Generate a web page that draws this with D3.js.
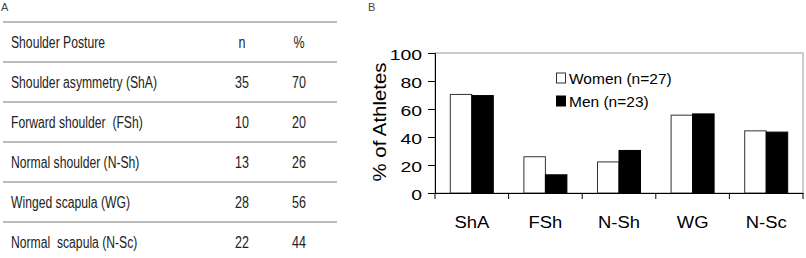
<!DOCTYPE html>
<html>
<head>
<meta charset="utf-8">
<script src="https://cdn.jsdelivr.net/npm/d3@7"></script>
<style>
  body { margin: 0; background: #fff; }
  svg { display: block; }
</style>
</head>
<body>
<div id="container"></div>
<script>
// table A
const tableHeader = ["Shoulder Posture", "n", "%"];
const postures = ["Shoulder asymmetry (ShA)", "Forward shoulder  (FSh)", "Normal shoulder (N-Sh)", "Winged scapula (WG)", "Normal  scapula (N-Sc)"];
const counts = [35, 10, 13, 28, 22];
const percents = [70, 20, 26, 56, 44];

// chart B
const categories = ["ShA", "FSh", "N-Sh", "WG", "N-Sc"];
const women = [70.4, 25.9, 22.2, 55.6, 44.4];
const men = [69.6, 13.0, 30.4, 56.5, 43.5];
const seriesNames = ["Women (n=27)", "Men (n=23)"];
const yTicks = [0, 20, 40, 60, 80, 100];

let w = 806, h = 258;
let viz = d3.select("#container").append("svg").attr("width", w).attr("height", h);

const sans = "'Liberation Sans', Arial, sans-serif";

// squeeze or widen glyphs horizontally, the picture is a bit stretched
function stretch(sel, factor) {
  sel.each(function () {
    let len = this.getComputedTextLength();
    d3.select(this).attr("textLength", len * factor).attr("lengthAdjust", "spacingAndGlyphs");
  });
}

// panel letters (right at the top edge like in the picture)
viz.append("text").attr("x", 1).attr("y", 11).attr("font-family", sans)
  .attr("font-size", 11).attr("fill", "#444").text("A");
viz.append("text").attr("x", 368).attr("y", 11).attr("font-family", sans)
  .attr("font-size", 11).attr("fill", "#444").text("B");

// ---- panel A: table ----
let rowY = d3.scaleLinear().domain([0, 1]).range([22, 62]); // top line of row i
let tbl = viz.append("g").attr("font-family", sans).attr("font-size", 16).attr("fill", "#222");

d3.range(6).forEach(i => {
  tbl.append("line").attr("x1", 3).attr("x2", 337)
    .attr("y1", rowY(i)).attr("y2", rowY(i))
    .attr("stroke", "#777").attr("stroke-width", 1.2);
});
const rows = [tableHeader].concat(postures.map((p, i) => [p, counts[i], percents[i]]));
rows.forEach((r, i) => {
  let y = rowY(i) + 26;
  tbl.append("text").attr("x", 11).attr("y", y).attr("xml:space", "preserve").text(r[0]).call(stretch, 0.76);
  tbl.append("text").attr("x", 242).attr("y", y).attr("text-anchor", "middle").text(r[1]).call(stretch, 0.78);
  tbl.append("text").attr("x", 299).attr("y", y).attr("text-anchor", "middle").text(r[2]).call(stretch, 0.78);
});

// ---- panel B: bar chart ----
const plot = {left: 435, right: 803, top: 53, bottom: 193};
let xScale = d3.scaleBand().domain(categories).range([plot.left, plot.right]);
let xInner = d3.scaleBand().domain(seriesNames).range([0, 43]);
let yScale = d3.scaleLinear().domain([0, 100]).range([plot.bottom, plot.top]);

let chart = viz.append("g").attr("font-family", sans);

// plot border (gray)
chart.append("rect").attr("x", plot.left).attr("y", plot.top)
  .attr("width", plot.right - plot.left).attr("height", plot.bottom - plot.top)
  .attr("fill", "none").attr("stroke", "#9a9a9a");

const data = categories.map((c, i) => ({key: c, vals: [women[i], men[i]]}));
let groups = chart.selectAll(".datapoint").data(data).enter().append("g")
  .classed("datapoint", true)
  .attr("transform", d => `translate(${xScale(d.key) + (xScale.bandwidth() - 43) / 2},0)`);
groups.selectAll("rect").data(d => d.vals.map((v, j) => ({v, s: seriesNames[j]}))).enter()
  .append("rect")
  .attr("x", d => xInner(d.s))
  .attr("width", xInner.bandwidth())
  .attr("y", d => yScale(d.v))
  .attr("height", d => yScale(0) - yScale(d.v))
  .attr("fill", d => d.s === seriesNames[0] ? "#fff" : "#000")
  .attr("stroke", d => d.s === seriesNames[0] ? "#333" : "#000")
  .attr("stroke-width", 1);

// y axis
let yAxis = d3.axisLeft(yScale).tickValues(yTicks).tickSize(7).tickPadding(6);
let yAxisGroup = chart.append("g").attr("transform", `translate(${plot.left},0)`).call(yAxis);
yAxisGroup.selectAll("text").attr("font-size", 15.5).attr("font-family", sans).attr("fill", "#000")
  .attr("dy", "0.45em").call(stretch, 1.25);
yAxisGroup.select(".domain").attr("stroke", "#000");

// x axis
let xAxis = d3.axisBottom(xScale).tickSize(0).tickPadding(24);
let xAxisGroup = chart.append("g").attr("transform", `translate(0,${plot.bottom})`).call(xAxis);
xAxisGroup.selectAll("text").attr("font-size", 16).attr("font-family", sans).attr("fill", "#000")
  .call(stretch, 1.15);
xAxisGroup.select(".domain").attr("stroke", "#000");
// boundary ticks between categories
let bounds = categories.map(c => xScale(c)).concat([plot.right]);
xAxisGroup.selectAll(".bound").data(bounds).enter().append("line")
  .attr("x1", d => d).attr("x2", d => d).attr("y1", 0).attr("y2", 6)
  .attr("stroke", "#000");

// y label
chart.append("text")
  .attr("transform", `translate(386,122) rotate(-90)`)
  .attr("text-anchor", "middle").attr("font-size", 18.5).text("% of Athletes")
  .call(stretch, 1.1);

// legend
let legend = chart.append("g");
seriesNames.forEach((s, i) => {
  let y = 73 + i * 23;
  legend.append("rect").attr("x", 556.5).attr("y", y).attr("width", 9).attr("height", 10)
    .attr("fill", i === 0 ? "#fff" : "#000").attr("stroke", i === 0 ? "#333" : "#000");
  legend.append("text").attr("x", 569).attr("y", y + 10.5).attr("font-size", 15.5).text(s);
});
</script>
</body>
</html>
